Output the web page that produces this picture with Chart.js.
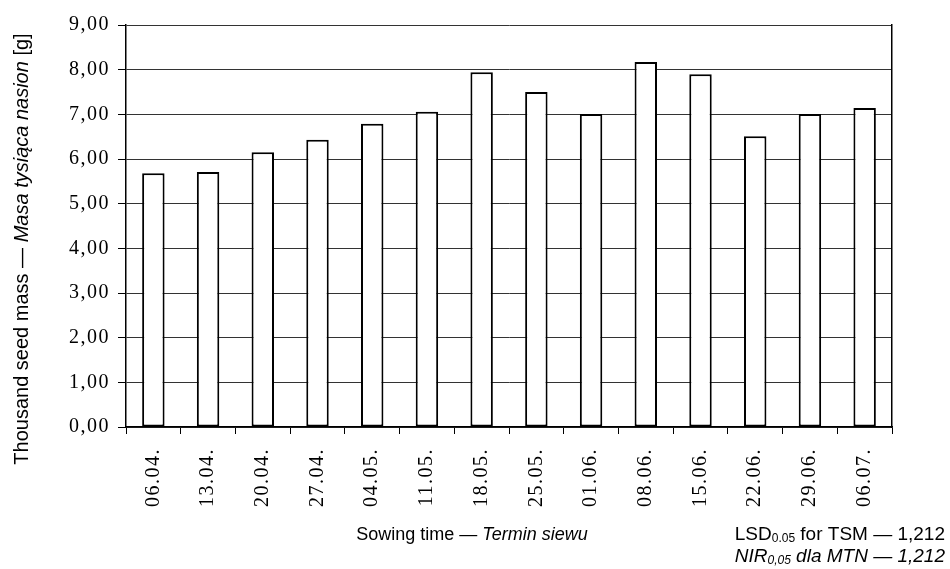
<!DOCTYPE html>
<html>
<head>
<meta charset="utf-8">
<script src="https://cdn.jsdelivr.net/npm/chart.js@4.4.1/dist/chart.umd.min.js"></script>
<style>
  html, body { margin: 0; padding: 0; background: #fff; }
  #wrap { position: relative; width: 950px; height: 569px; }
</style>
</head>
<body>
<div id="wrap"><canvas id="chart-tsm" width="950" height="569"></canvas></div>
<script>
const sowingDates = ['06.04.', '13.04.', '20.04.', '27.04.', '04.05.', '11.05.', '18.05.',
    '25.05.', '01.06.', '08.06.', '15.06.', '22.06.', '29.06.', '06.07.'];
const seedMass = [5.68, 5.71, 6.15, 6.43, 6.79, 7.06, 7.94, 7.50, 7.01, 8.17, 7.90, 6.51, 7.01, 7.14];
const yMin = 0;
const yMax = 9;
const yStep = 1;

const serif = "'Liberation Serif', 'Times New Roman', serif";
const sans = "'Liberation Sans', Arial, sans-serif";

// draws a sequence of [text, font, dy] pieces starting at x
function drawPieces(ctx, pieces, x, y) {
    pieces.forEach(function (p) {
        ctx.font = p[1];
        ctx.fillText(p[0], x, y + (p[2] || 0));
        x += ctx.measureText(p[0]).width;
    });
}

function piecesWidth(ctx, pieces) {
    let w = 0;
    pieces.forEach(function (p) {
        ctx.font = p[1];
        w += ctx.measureText(p[0]).width;
    });
    return w;
}

// the original tick labels are set a bit wide
const spacingPlugin = {
    id: 'spacing',
    beforeDraw(chart) {
        chart.ctx.letterSpacing = '1.5px';
    },
    afterDraw(chart) {
        chart.ctx.letterSpacing = '0px';
    },
};

const titlesPlugin = {
    id: 'titles',
    afterDraw(chart) {
        const ctx = chart.ctx;
        ctx.save();
        ctx.letterSpacing = '0px';
        ctx.fillStyle = '#000';
        ctx.textBaseline = 'middle';
        ctx.textAlign = 'left';

        // y axis title
        const yTitle = [
            ['Thousand seed mass — ', '20px ' + sans],
            ['Masa tysiąca nasion', 'italic 20px ' + sans],
            [' [g]', '20px ' + sans],
        ];
        ctx.save();
        ctx.translate(22, 249);
        ctx.rotate(-Math.PI / 2);
        drawPieces(ctx, yTitle, -piecesWidth(ctx, yTitle) / 2, 0);
        ctx.restore();

        // x axis title
        const xTitle = [
            ['Sowing time — ', '18px ' + sans],
            ['Termin siewu', 'italic 18px ' + sans],
        ];
        drawPieces(ctx, xTitle, 472 - piecesWidth(ctx, xTitle) / 2, 535);

        // LSD notes
        const lsd = [
            ['LSD', '19px ' + sans],
            ['0.05', '12px ' + sans, 4],
            [' for TSM — 1,212', '19px ' + sans],
        ];
        drawPieces(ctx, lsd, 945 - piecesWidth(ctx, lsd), 535);

        const nir = [
            ['NIR', 'italic 19px ' + sans],
            ['0,05', 'italic 12px ' + sans, 4],
            [' dla MTN — 1,212', 'italic 19px ' + sans],
        ];
        drawPieces(ctx, nir, 945 - piecesWidth(ctx, nir), 557);

        ctx.restore();
    },
};

new Chart(document.getElementById('chart-tsm').getContext('2d'), {
    type: 'bar',
    data: {
        labels: sowingDates,
        datasets: [
            {
                label: 'Thousand seed mass',
                data: seedMass,
                backgroundColor: '#ffffff',
                borderColor: '#000000',
                borderWidth: 2,
                borderSkipped: false,
                categoryPercentage: 1.0,
                barPercentage: 0.41,
            },
        ],
    },
    options: {
        responsive: false,
        animation: false,
        events: [],
        layout: {
            padding: { left: 0, right: 58, top: 25, bottom: 0 },
        },
        plugins: {
            legend: { display: false },
            tooltip: { enabled: false },
        },
        scales: {
            x: {
                offset: true,
                grid: {
                    offset: true,
                    drawOnChartArea: false,
                    tickLength: 7,
                    tickColor: '#000',
                    lineWidth: 1,
                },
                border: { color: '#000', width: 1.5 },
                ticks: {
                    minRotation: 90,
                    maxRotation: 90,
                    autoSkip: false,
                    padding: 14,
                    color: '#000',
                    font: { family: serif, size: 20 },
                },
                afterFit(scale) {
                    scale.height = 142;
                },
            },
            y: {
                min: yMin,
                max: yMax,
                ticks: {
                    stepSize: yStep,
                    padding: 8,
                    color: '#000',
                    font: { family: serif, size: 20 },
                    callback: function (value) {
                        return value.toFixed(2).replace('.', ',');
                    },
                },
                grid: {
                    color: '#333',
                    tickColor: '#000',
                    tickLength: 8,
                    lineWidth: 1,
                },
                border: { color: '#000', width: 1.5 },
                afterFit(scale) {
                    scale.width = 126;
                },
            },
            y2: {
                position: 'right',
                min: yMin,
                max: yMax,
                ticks: { display: false },
                grid: { display: false, drawTicks: false },
                border: { color: '#000', width: 1.5 },
                afterFit(scale) {
                    scale.width = 0;
                },
            },
        },
    },
    plugins: [spacingPlugin, titlesPlugin],
});
</script>
</body>
</html>
